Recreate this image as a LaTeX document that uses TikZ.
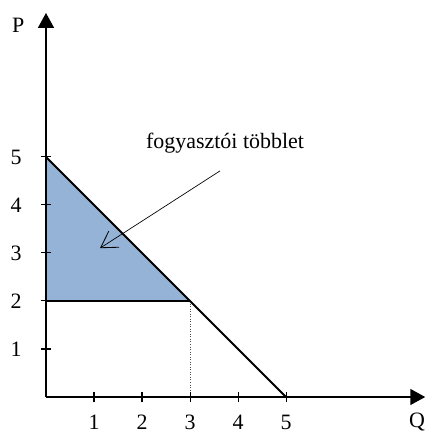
\documentclass[tikz,border=0pt]{standalone}
\usepackage{fontspec}
\setmainfont{Liberation Serif}
\usetikzlibrary{arrows.meta,positioning}
\definecolor{surplus}{RGB}{149,179,215}

\begin{document}
\begin{tikzpicture}[font=\fontsize{13}{15.6}\selectfont,
 axis/.style={line width=1pt,-{Triangle[length=3.1mm,width=3.3mm]}},
 curve/.style={line width=1.1pt},
 tick/.style={line width=0.6pt},
 lbl/.style={inner sep=0pt},
 pointer/.style={line width=0.4pt,-{Straight Barb[length=3.3mm,width=4mm,line width=0.5pt]}}]
\useasboundingbox (-0.958,-0.729) rectangle (7.917,8.27);
\coordinate (o) at (0,0);
\coordinate (ytop) at (0,8);
\coordinate (xend) at (7.9,0);
\coordinate (p5) at (0,5);
\coordinate (p2) at (0,2);
\coordinate (e) at (3,2);
\coordinate (e0) at (3,0);
\coordinate (q5) at (5,0);
% consumer surplus
\fill[surplus] (p5)--(e)--(p2)--cycle;
\draw[densely dotted,black!70,line width=0.5pt] (e)--(e0);
\draw[curve] (p5)--(q5);
\draw[curve] (p2)--(e);
% axes
\draw[axis] (o)--(ytop);
\draw[axis] (o)--(xend);
\node[lbl] (P) at (-0.58,7.75) {P};
\node[lbl,anchor=east] (Q) at (7.9,-0.52) {Q};
\foreach \k in {1,...,5} {
 \draw[tick] (-0.11,\k)--(0.11,\k);
 \node[lbl] (y\k) at (-0.62,\k) {\k};
 \draw[tick] (\k,-0.11)--(\k,0.11);
 \node[lbl] (x\k) at (\k,-0.53) {\k};
}
\node (cs) at (3.73,5.29) {fogyasztói többlet};
\coordinate (cstail) at (3.625,4.71);
\coordinate (cstip) at (1.125,3.10);
\draw[pointer] (cstail)--(cstip);
\end{tikzpicture}
\end{document}
